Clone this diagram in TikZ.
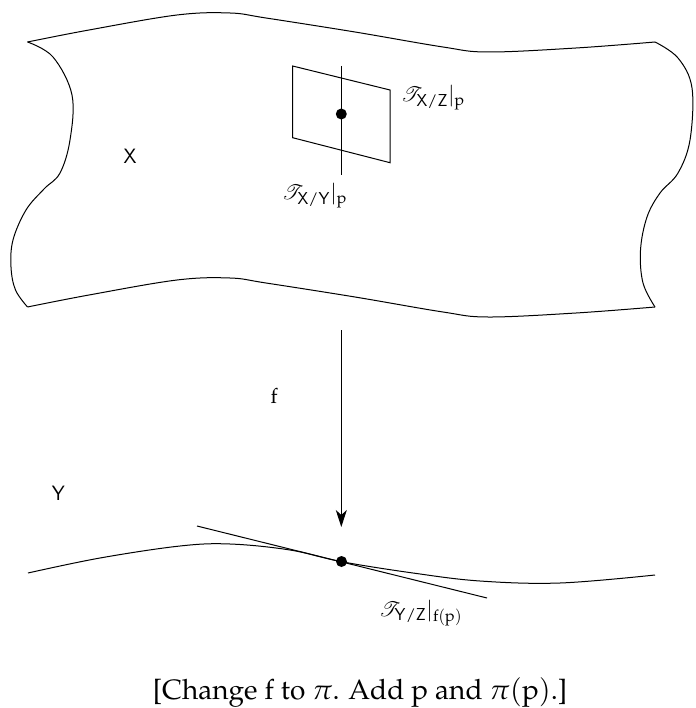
\documentclass[tikz,border=0pt]{standalone}
\usepackage[T1]{fontenc}
\usepackage{mathpazo}
\usepackage{mathrsfs}
\usetikzlibrary{arrows.meta}
\DeclareMathSizes{21}{21}{16}{12}
\begin{document}
\begin{tikzpicture}[x=1pt,y=-1pt,
  edge/.style={line width=1pt},
  dotp/.style={circle,fill=black,inner sep=0pt,minimum size=11pt},
  lbl/.style={font=\fontsize{21}{25}\selectfont, inner sep=0pt},
  captext/.style={font=\fontsize{28}{32}\selectfont, inner sep=0pt}]
\path[use as bounding box] (0,0) rectangle (695,708);
% sheet X
\draw[edge] plot[smooth, tension=0.6] coordinates {(27.5,42) (89,30) (177,15) (230,13) (266,18) (355,32) (443,47) (488,52) (576,48) (655,42)};
\draw[edge] plot[smooth, tension=0.6] coordinates {(27.5,307) (89,295) (177,280) (230,278) (266,283) (355,297) (443,312) (488,317) (576,313) (655,307)};
\draw[edge] plot[smooth, tension=0.6] coordinates {(27.5,42) (53,57) (72,95) (70,140) (60,173) (44,189) (26,210) (13,240) (11,267) (15.5,290) (27.5,307)};
\draw[edge] plot[smooth, tension=0.6] coordinates {(655,42) (678,58) (692,88) (690,140) (678,173) (660,193) (647,217) (640.5,250) (643,283) (655,307)};
% tangent plane at p
\draw[edge] (292.6,66) -- (390,90) -- (390,162.7) -- (292.6,137.7) -- cycle;
\coordinate (vt) at (341.3,66);
\coordinate (vb) at (341.3,175);
\draw[edge] (vt) -- (vb);
\node[dotp] (p) at (341.3,114) {};
\node[lbl, anchor=base west] (tXZ) at (401,102) {$\mathscr{T}_{\mathsf{X/Z}}|_{\mathrm{p}}$};
\node[lbl, anchor=base west] (tXY) at (282,200) {$\mathscr{T}_{\mathsf{X/Y}}|_{\mathrm{p}}$};
\node[lbl] (X) at (130,156) {$\mathsf{X}$};
% map f
\coordinate (fa) at (341.3,330);
\coordinate (fb) at (341.3,527);
\draw[edge, -{Stealth[length=17pt,width=11pt,inset=5pt]}] (fa) -- (fb);
\node[lbl] (f) at (274,396) {$\mathrm{f}$};
\node[lbl] (Y) at (58.5,493.5) {$\mathsf{Y}$};
% curve Y
\draw[edge] plot[smooth, tension=0.6] coordinates {(28,573) (100,558) (180,546) (230,544) (290,550) (341.7,561.7) (413,573) (480,581) (560,583) (655,575)};
\node[dotp] (fp) at (341.5,561.5) {};
\coordinate (la) at (197,526);
\coordinate (lb) at (487,598);
\draw[edge] (la) -- (lb);
\node[lbl, anchor=base west] (tYZ) at (379,616) {$\mathscr{T}_{\mathsf{Y/Z}}|_{\mathrm{f(p)}}$};
% caption
\node[captext, anchor=base] (capn) at (360,699) {[Change $\mathrm{f}$ to $\pi$. Add $\mathrm{p}$ and $\pi(\mathrm{p})$.]};
\end{tikzpicture}
\end{document}
